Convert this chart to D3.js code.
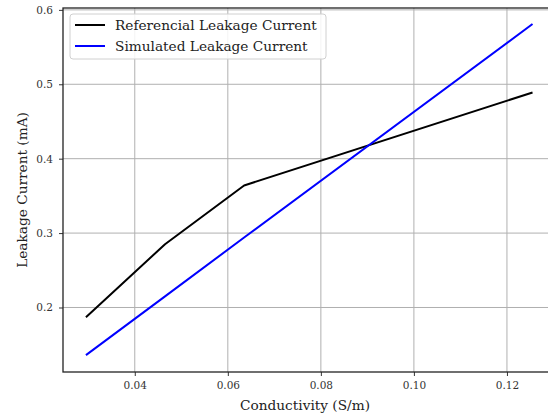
<!DOCTYPE html>
<html>
<head>
<meta charset="utf-8">
<script src="https://cdn.jsdelivr.net/npm/d3@7"></script>
<style>
  html, body { margin: 0; padding: 0; background: #fff; }
  svg { display: block; font-family: "DejaVu Serif", serif; }
</style>
</head>
<body>
<div id="chart"></div>
<script>
// Leakage current vs conductivity

const conductivity = [0.0295, 0.0465, 0.0635, 0.1255];
const referencialCurrent = [0.187, 0.285, 0.364, 0.489];
const simulatedCurrent = [0.136, 0.215, 0.294, 0.581];
const xTicks = [0.04, 0.06, 0.08, 0.10, 0.12];
const yTicks = [0.2, 0.3, 0.4, 0.5, 0.6];
const seriesNames = ['Referencial Leakage Current', 'Simulated Leakage Current'];
const seriesColors = ['#000000', '#0000ff'];

const width = 548;
const height = 416;
const margin = { top: 8, right: -7, bottom: 44, left: 63 };

const svg = d3.select('#chart')
    .append('svg')
    .attr('width', width)
    .attr('height', height);

const x = d3.scaleLinear()
    .domain([0.02457, 0.13033])
    .range([margin.left, width - margin.right]);

const y = d3.scaleLinear()
    .domain([0.1133, 0.6025])
    .range([height - margin.bottom, margin.top]);

const plotLeft = margin.left;
const plotRight = width - margin.right;
const plotTop = margin.top;
const plotBottom = height - margin.bottom;

// grid
const grid = svg.append('g').attr('stroke', '#b0b0b0').attr('stroke-width', 1);
xTicks.forEach(t => {
    grid.append('line')
        .attr('x1', x(t)).attr('x2', x(t))
        .attr('y1', plotTop).attr('y2', plotBottom);
});
yTicks.forEach(t => {
    grid.append('line')
        .attr('x1', plotLeft).attr('x2', plotRight)
        .attr('y1', y(t)).attr('y2', y(t));
});

// lines
const line = d3.line()
    .x((d, i) => x(conductivity[i]))
    .y(d => y(d));

[referencialCurrent, simulatedCurrent].forEach((series, k) => {
    svg.append('path')
        .datum(series)
        .attr('fill', 'none')
        .attr('stroke', seriesColors[k])
        .attr('stroke-width', 2)
        .attr('stroke-linejoin', 'round')
        .attr('d', line);
});

// axes
const xAxis = svg.append('g')
    .attr('transform', `translate(0,${plotBottom})`)
    .call(d3.axisBottom(x).tickValues(xTicks).tickFormat(d3.format('.2f')).tickSize(4).tickPadding(6));

const yAxis = svg.append('g')
    .attr('transform', `translate(${plotLeft},0)`)
    .call(d3.axisLeft(y).tickValues(yTicks).tickFormat(d3.format('.1f')).tickSize(4).tickPadding(6));

[xAxis, yAxis].forEach(a => {
    a.select('.domain').remove();
    a.selectAll('text')
        .attr('font-family', '"DejaVu Serif", serif')
        .attr('font-size', 10.5)
        .attr('fill', '#333');
    a.selectAll('line').attr('stroke', '#333');
});

// frame
svg.append('rect')
    .attr('x', plotLeft)
    .attr('y', plotTop)
    .attr('width', plotRight - plotLeft)
    .attr('height', plotBottom - plotTop)
    .attr('fill', 'none')
    .attr('stroke', '#222')
    .attr('stroke-width', 1.3);

// axis labels
svg.append('text')
    .attr('x', 305)
    .attr('y', 410)
    .attr('text-anchor', 'middle')
    .attr('font-size', 13.7)
    .attr('fill', '#222')
    .text('Conductivity (S/m)');

svg.append('text')
    .attr('transform', `translate(27,${(plotTop + plotBottom) / 2}) rotate(-90)`)
    .attr('text-anchor', 'middle')
    .attr('font-size', 13.7)
    .attr('fill', '#222')
    .text('Leakage Current (mA)');

// legend
const legend = svg.append('g').attr('transform', 'translate(70,14)');
legend.append('rect')
    .attr('width', 256)
    .attr('height', 45)
    .attr('rx', 3)
    .attr('fill', '#fff')
    .attr('fill-opacity', 0.85)
    .attr('stroke', '#d0d0d0');

seriesNames.forEach((name, i) => {
    const row = legend.append('g').attr('transform', `translate(0,${11 + i * 21})`);
    row.append('line')
        .attr('x1', 5).attr('x2', 35)
        .attr('stroke', seriesColors[i])
        .attr('stroke-width', 2);
    row.append('text')
        .attr('x', 45)
        .attr('dy', '0.35em')
        .attr('font-size', 13.7)
        .attr('fill', '#222')
        .text(name);
});
</script>
</body>
</html>
